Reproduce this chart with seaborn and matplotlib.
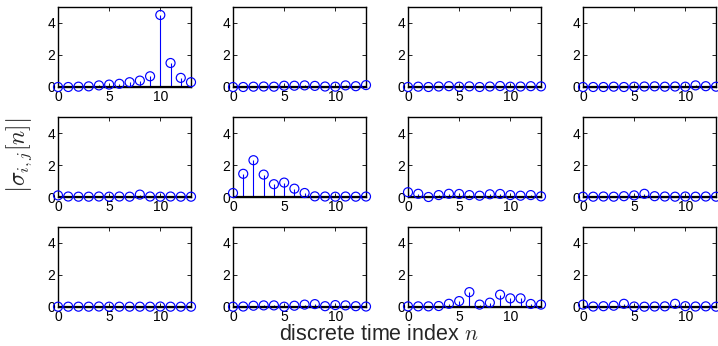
import numpy as np
import pandas as pd
import seaborn as sns
import matplotlib
matplotlib.use("Agg")
import matplotlib.pyplot as plt

n = np.arange(14)

# |sigma_{i,j}[n]| for each panel, rows top to bottom, columns left to right
s00 = [0.0, 0.0, 0.02, 0.04, 0.1, 0.15, 0.2, 0.3, 0.4, 0.67, 4.5, 1.5, 0.57, 0.3]
s01 = [0.0, 0.0, 0.02, 0.03, 0.02, 0.08, 0.08, 0.1, 0.07, 0.03, 0.02, 0.1, 0.05, 0.12]
s02 = [0.0, 0.02, 0.0, 0.03, 0.05, 0.02, 0.04, 0.0, 0.03, 0.06, 0.02, 0.03, 0.05, 0.04]
s03 = [0.0, 0.0, 0.0, 0.02, 0.0, 0.02, 0.03, 0.04, 0.02, 0.03, 0.02, 0.1, 0.05, 0.02]
s10 = [0.1, 0.03, 0.02, 0.02, 0.03, 0.02, 0.03, 0.02, 0.15, 0.03, 0.02, 0.03, 0.02, 0.02]
s11 = [0.25, 1.45, 2.3, 1.4, 0.8, 0.9, 0.52, 0.25, 0.04, 0.03, 0.02, 0.03, 0.02, 0.03]
s12 = [0.3, 0.2, 0.0, 0.12, 0.2, 0.19, 0.12, 0.08, 0.17, 0.19, 0.12, 0.08, 0.12, 0.04]
s13 = [0.02, 0.02, 0.03, 0.02, 0.05, 0.1, 0.2, 0.05, 0.03, 0.02, 0.03, 0.02, 0.03, 0.02]
s20 = [0.02, 0.02, 0.02, 0.02, 0.03, 0.02, 0.02, 0.02, 0.02, 0.02, 0.03, 0.02, 0.02, 0.02]
s21 = [0.02, 0.03, 0.08, 0.1, 0.1, 0.02, 0.08, 0.15, 0.18, 0.05, 0.12, 0.1, 0.05, 0.03]
s22 = [0.04, 0.04, 0.04, 0.06, 0.2, 0.37, 0.93, 0.15, 0.27, 0.77, 0.54, 0.54, 0.19, 0.15]
s23 = [0.15, 0.03, 0.05, 0.08, 0.2, 0.03, 0.02, 0.03, 0.04, 0.2, 0.05, 0.03, 0.04, 0.02]

panels = [[s00, s01, s02, s03], [s10, s11, s12, s13], [s20, s21, s22, s23]]

sns.set_style("ticks")
plt.rcParams["font.family"] = ["Liberation Sans", "DejaVu Sans"]
plt.rcParams["mathtext.fontset"] = "cm"

fig = plt.figure(figsize=(7.18, 3.46), dpi=100)
W, H = 718.0, 346.0
blue = "#0000ff"

for r in range(3):
    for c in range(4):
        left = (58 + 175 * c) / W
        top = (7 + 110 * r) / H
        ax = fig.add_axes([left, 1 - top - 80 / H, 133 / W, 80 / H])
        df = pd.DataFrame({"n": n, "v": panels[r][c]})
        ax.vlines(df["n"], 0, df["v"], color=blue, lw=0.8, zorder=2)
        sns.scatterplot(data=df, x="n", y="v", ax=ax, marker="o", s=42,
                        facecolors="none", edgecolor=blue, linewidth=0.85,
                        zorder=3, clip_on=False)
        ax.axhline(0, color="black", lw=1.6, zorder=2.5)
        ax.set_xlim(0, 13)
        ax.set_ylim(0, 5)
        ax.set_xticks([0, 5, 10])
        ax.set_yticks([0, 2, 4])
        ax.set_xlabel("")
        ax.set_ylabel("")
        ax.tick_params(direction="in", length=3, width=0.6, labelsize=10,
                       top=True, right=True, pad=2, colors="black")
        for sp in ax.spines.values():
            sp.set_linewidth(1.0)
            sp.set_color("black")
            sp.set_visible(True)

fig.text(20 / W, 1 - 155 / H, r"$\left|\sigma_{i,j}[n]\right|$", rotation=90,
         ha="center", va="center", fontsize=17)
fig.text(379 / W, 1 - 335 / H, r"discrete time index $n$", ha="center",
         va="center", fontsize=15.5)

fig.savefig("out.png", dpi=100)
